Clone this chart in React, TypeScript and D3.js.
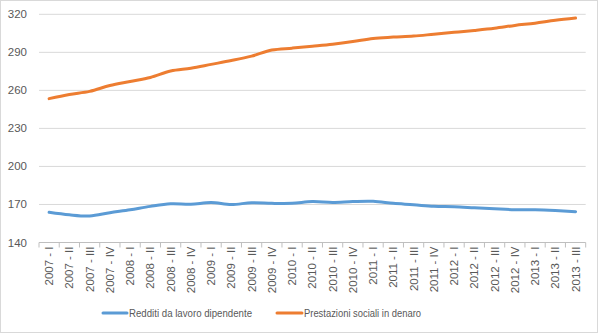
import React from "react";
import * as d3 from "d3";

const categories = [
  "2007 - I", "2007 - II", "2007 - III", "2007 - IV",
  "2008 - I", "2008 - II", "2008 - III", "2008 - IV",
  "2009 - I", "2009 - II", "2009 - III", "2009 - IV",
  "2010 - I", "2010 - II", "2010 - III", "2010 - IV",
  "2011 - I", "2011 - II", "2011 - III", "2011 - IV",
  "2012 - I", "2012 - II", "2012 - III", "2012 - IV",
  "2013 - I", "2013 - II", "2013 - III",
];

const redditi = [
  163.8, 161.8, 160.9, 163.5, 165.8, 168.5, 170.5, 170.2, 171.5, 169.9, 171.4, 170.9, 170.9,
  172.3, 171.6, 172.3, 172.5, 170.9, 169.8, 168.5, 168.2, 167.4, 166.6, 165.9, 165.8, 165.2, 164.3,
];

const prestazioni = [
  253.5, 256.8, 259.2, 263.8, 267.0, 270.2, 275.3, 277.5, 280.5, 283.5, 287.0, 291.8, 293.3,
  294.8, 296.4, 298.5, 301.0, 302.0, 302.8, 304.3, 305.8, 307.3, 309.0, 311.2, 313.0, 315.3, 317.0,
];

const yTicks = [140, 170, 200, 230, 260, 290, 320];

const seriesNames = ["Redditi da lavoro dipendente", "Prestazioni sociali in denaro"];
const seriesColors = ["#5B9BD5", "#ED7D31"];

export default function App() {
  const W = 601;
  const H = 334;
  const left = 39;
  const right = 585.7;
  const top = 14.3;
  const bottom = 242.5;

  const x = d3.scaleBand<string>().domain(categories).range([left, right]).padding(0);
  const y = d3.scaleLinear().domain([140, 320]).range([bottom, top]);

  const line = d3
    .line<number>()
    .x((_, i) => (x(categories[i]) as number) + x.bandwidth() / 2)
    .y((d) => y(d))
    .curve(d3.curveCatmullRom.alpha(0.5));

  const series = [redditi, prestazioni];
  const font = "'Liberation Sans', Arial, sans-serif";
  const textColor = "#595959";

  const boundaries = categories.map((c) => x(c) as number).concat([right]);

  const legendY = 313;
  const legendItems = [
    { x0: 103, x1: 127, tx: 129, len: 123 },
    { x0: 277, x1: 302, tx: 304, len: 117 },
  ];

  return (
    <svg
      width={W}
      height={H}
      style={{ position: "absolute", left: 0, top: 0, display: "block", background: "#fff" }}
      fontFamily={font}
    >
      <rect x={0.5} y={0.5} width={597} height={332} fill="#fff" stroke="#d9d9d9" strokeWidth={1} />
      {yTicks.map((t) => (
        <g key={t}>
          {t !== 140 && (
            <line x1={left} x2={right} y1={y(t)} y2={y(t)} stroke="#d9d9d9" strokeWidth={1} />
          )}
          <text
            x={27}
            y={y(t)}
            dy="0.35em"
            textAnchor="end"
            fontSize={11.5}
            fill={textColor}
          >
            {t}
          </text>
        </g>
      ))}
      <line x1={left} x2={right} y1={bottom} y2={bottom} stroke="#bfbfbf" strokeWidth={1} />
      {boundaries.map((bx, i) => (
        <line key={i} x1={bx} x2={bx} y1={bottom} y2={bottom + 5} stroke="#bfbfbf" strokeWidth={1} />
      ))}
      {categories.map((c) => {
        const cx = (x(c) as number) + x.bandwidth() / 2;
        return (
          <text
            key={c}
            transform={`translate(${cx},${bottom + 4}) rotate(-90)`}
            textAnchor="end"
            dy="0.35em"
            fontSize={11.5}
            fill={textColor}
          >
            {c}
          </text>
        );
      })}
      {series.map((s, i) => (
        <path
          key={i}
          d={line(s) || ""}
          fill="none"
          stroke={seriesColors[i]}
          strokeWidth={3}
          strokeLinecap="round"
          strokeLinejoin="round"
        />
      ))}
      {legendItems.map((l, i) => (
        <g key={i}>
          <line
            x1={l.x0}
            x2={l.x1}
            y1={legendY}
            y2={legendY}
            stroke={seriesColors[i]}
            strokeWidth={3}
            strokeLinecap="round"
          />
          <text
            x={l.tx}
            y={legendY}
            dy="0.35em"
            fontSize={11}
            fill={textColor}
            textLength={l.len}
            lengthAdjust="spacingAndGlyphs"
          >
            {seriesNames[i]}
          </text>
        </g>
      ))}
    </svg>
  );
}
